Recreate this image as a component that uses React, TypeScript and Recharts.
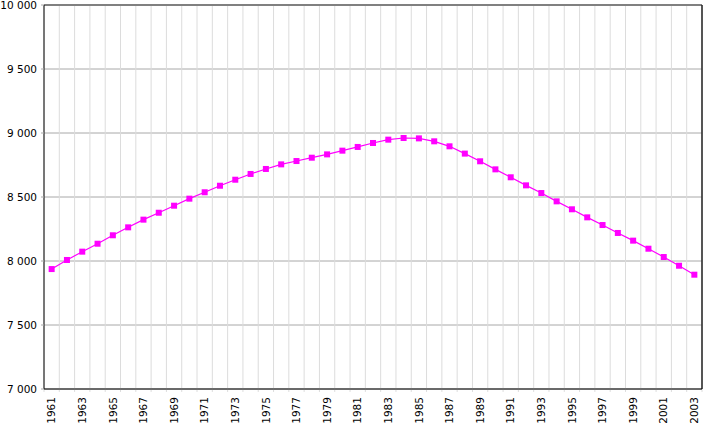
import {
  LineChart,
  Line,
  XAxis,
  YAxis,
  CartesianGrid,
  ReferenceLine,
} from "recharts";

const years = [
  1961, 1962, 1963, 1964, 1965, 1966, 1967, 1968, 1969, 1970, 1971, 1972,
  1973, 1974, 1975, 1976, 1977, 1978, 1979, 1980, 1981, 1982, 1983, 1984,
  1985, 1986, 1987, 1988, 1989, 1990, 1991, 1992, 1993, 1994, 1995, 1996,
  1997, 1998, 1999, 2000, 2001, 2002, 2003,
];

const population = [
  7937, 8008, 8073, 8135, 8201, 8263, 8323, 8377, 8432, 8487, 8537, 8588,
  8635, 8680, 8719, 8755, 8781, 8807, 8833, 8862, 8891, 8922, 8948, 8961,
  8958, 8935, 8896, 8839, 8779, 8716, 8654, 8591, 8531, 8466, 8404, 8341,
  8281, 8219, 8159, 8096, 8031, 7963, 7893,
];

const yTicks = [7000, 7500, 8000, 8500, 9000, 9500, 10000];

const data = years.map((year, i) => ({ year, value: population[i] }));
const labelYears = years.filter((_, i) => i % 2 === 0);
const bounds = [...years.map((y) => y - 0.5), years[years.length - 1] + 0.5];
const xDomain = [bounds[0], bounds[bounds.length - 1]];

const font = "'DejaVu Sans', Verdana, sans-serif";

const fmt = (v: number) => String(v).replace(/\B(?=(\d{3})+(?!\d))/g, " ");

function YearTick({ x, y, payload }: any) {
  return (
    <text
      x={x}
      y={y}
      transform={`rotate(-90, ${x}, ${y})`}
      textAnchor="end"
      dy="0.35em"
      fontSize={10.5}
      fill="#000"
      style={{ fontFamily: font }}
    >
      {payload.value}
    </text>
  );
}

function ValueTick({ x, y, payload }: any) {
  return (
    <text
      x={x}
      y={y}
      textAnchor="end"
      dy="0.35em"
      fontSize={10.5}
      fill="#000"
      style={{ fontFamily: font }}
    >
      {fmt(payload.value)}
    </text>
  );
}

function SquareDot({ cx, cy }: any) {
  if (cx == null || cy == null) return null;
  return <rect x={cx - 3} y={cy - 3} width={6} height={6} fill="#ff00ff" />;
}

export default function App() {
  return (
    <div style={{ position: "absolute", left: 0, top: 0 }}>
      <LineChart
        width={725}
        height={426}
        data={data}
        margin={{ top: 5, right: 23, left: 0, bottom: 0 }}
        style={{ fontFamily: font }}
      >
        <CartesianGrid vertical={false} stroke="#a8a8a8" strokeWidth={1} />
        {bounds.map((b) => (
          <ReferenceLine
            key={b}
            segment={[
              { x: b, y: 10000 },
              { x: b, y: 6977 },
            ]}
            ifOverflow="visible"
            stroke="#dcdcdc"
            strokeWidth={1}
          />
        ))}
        <XAxis
          dataKey="year"
          type="number"
          domain={xDomain}
          ticks={labelYears}
          interval={0}
          tick={<YearTick />}
          tickLine={false}
          axisLine={{ stroke: "#000" }}
          height={37}
        />
        <YAxis
          domain={[7000, 10000]}
          ticks={yTicks}
          interval={0}
          width={44}
          tickSize={3}
          tickMargin={4}
          tickLine={{ stroke: "#a8a8a8" }}
          axisLine={{ stroke: "#000" }}
          tick={<ValueTick />}
        />
        <ReferenceLine y={10000} stroke="#808080" strokeWidth={2} />
        <ReferenceLine x={xDomain[1]} stroke="#222" strokeWidth={1.5} />
        <Line
          type="linear"
          dataKey="value"
          stroke="#ff00ff"
          strokeWidth={1.2}
          dot={<SquareDot />}
          activeDot={false}
          isAnimationActive={false}
        />
      </LineChart>
    </div>
  );
}
